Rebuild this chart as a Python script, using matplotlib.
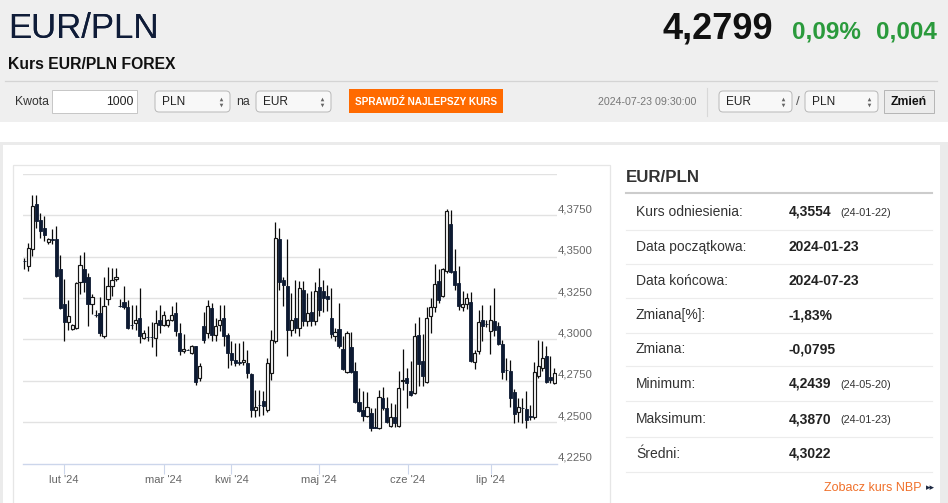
import matplotlib
matplotlib.use('Agg')
import matplotlib.pyplot as plt
from matplotlib.patches import Rectangle, FancyBboxPatch
from matplotlib.transforms import offset_copy, blended_transform_factory
import numpy as np

plt.rcParams['font.family'] = ['Liberation Sans', 'DejaVu Sans']

# ---------------- data ----------------
opens = [4.3475, 4.3447, 4.3548, 4.3817, 4.3720, 4.3671, 4.3588, 4.3605, 4.3605, 4.3427,
         4.3215, 4.3104, 4.3063, 4.3067, 4.3348, 4.3428, 4.3378, 4.3217, 4.3150, 4.3160,
         4.3019, 4.3245, 4.3322, 4.3366, 4.3205, 4.3227, 4.3197, 4.3087, 4.3100, 4.3130,
         4.3009, 4.3015, 4.3015, 4.3009, 4.3120, 4.3089, 4.3089, 4.3115, 4.3160, 4.3039,
         4.2928, 4.2938, 4.2918, 4.2958, 4.2766, 4.3080, 4.3039, 4.3191, 4.3029, 4.3090,
         4.3130, 4.3029, 4.2918, 4.2878, 4.2862, 4.2861, 4.2857, 4.2791, 4.2575, 4.2606,
         4.2631, 4.2575, 4.2797, 4.2989, 4.3609, 4.3358, 4.3326, 4.3059, 4.3130, 4.3070,
         4.3302, 4.3110, 4.3164, 4.3110, 4.3318, 4.3292, 4.3265, 4.3130, 4.3019, 4.3063,
         4.2942, 4.2801, 4.2954, 4.2807, 4.2625, 4.2575, 4.2538, 4.2555, 4.2470, 4.2464,
         4.2645, 4.2585, 4.2478, 4.2534, 4.2478, 4.2750, 4.2767, 4.2690, 4.2676, 4.3029,
         4.2868, 4.2746, 4.3144, 4.3197, 4.3352, 4.3265, 4.3413, 4.3695, 4.3413, 4.3342,
         4.3197, 4.3217, 4.3225, 4.2861, 4.2928, 4.3120, 4.3096, 4.3049, 4.3110, 4.3084,
         4.2975, 4.2817, 4.2807, 4.2680, 4.2559, 4.2585, 4.2579, 4.2535, 4.2534, 4.2781,
         4.2827, 4.2902, 4.2773, 4.2736]
highs = [4.3494, 4.3584, 4.3871, 4.3871, 4.3766, 4.3746, 4.3615, 4.3669, 4.3685, 4.3508,
         4.3366, 4.3241, 4.3095, 4.3346, 4.3508, 4.3528, 4.3403, 4.3277, 4.3180, 4.3257,
         4.3378, 4.3439, 4.3433, 4.3431, 4.3245, 4.3322, 4.3237, 4.3211, 4.3211, 4.3312,
         4.3059, 4.3080, 4.3105, 4.3176, 4.3211, 4.3170, 4.3125, 4.3201, 4.3225, 4.3100,
         4.3034, 4.2942, 4.2968, 4.2962, 4.2857, 4.3164, 4.3241, 4.3221, 4.3130, 4.3211,
         4.3211, 4.3039, 4.2989, 4.2979, 4.2979, 4.2989, 4.2938, 4.2797, 4.2696, 4.2696,
         4.2686, 4.2888, 4.3059, 4.3710, 4.3675, 4.3378, 4.3609, 4.3282, 4.3362, 4.3352,
         4.3352, 4.3282, 4.3292, 4.3346, 4.3433, 4.3362, 4.3332, 4.3312, 4.3069, 4.3221,
         4.3019, 4.3049, 4.3043, 4.2861, 4.2706, 4.2686, 4.2680, 4.2585, 4.2585, 4.2696,
         4.2712, 4.2651, 4.2615, 4.2612, 4.2807, 4.2942, 4.2827, 4.2868, 4.3100, 4.3136,
         4.3035, 4.3197, 4.3251, 4.3459, 4.3427, 4.3433, 4.3786, 4.3782, 4.3548, 4.3447,
         4.3292, 4.3282, 4.3286, 4.2938, 4.3176, 4.3211, 4.3116, 4.3211, 4.3312, 4.3104,
         4.2999, 4.2888, 4.2874, 4.2700, 4.2645, 4.2645, 4.2686, 4.2605, 4.2861, 4.2999,
         4.2989, 4.2958, 4.2902, 4.2827]
lows = [4.3423, 4.3413, 4.3504, 4.3675, 4.3615, 4.3595, 4.3580, 4.3574, 4.3379, 4.3187,
        4.2991, 4.3059, 4.3055, 4.3063, 4.3277, 4.3286, 4.3084, 4.3155, 4.3136, 4.3019,
        4.3009, 4.3211, 4.3261, 4.3354, 4.3195, 4.3187, 4.3065, 4.3065, 4.3059, 4.2978,
        4.3003, 4.2989, 4.2954, 4.2898, 4.3039, 4.3080, 4.3075, 4.3110, 4.3019, 4.2908,
        4.2918, 4.2934, 4.2913, 4.2726, 4.2752, 4.2979, 4.3009, 4.2989, 4.2989, 4.3049,
        4.2958, 4.2827, 4.2847, 4.2841, 4.2847, 4.2847, 4.2767, 4.2534, 4.2534, 4.2538,
        4.2544, 4.2559, 4.2756, 4.2979, 4.3302, 4.3201, 4.2898, 4.3019, 4.3039, 4.3019,
        4.3080, 4.3080, 4.3084, 4.3090, 4.3140, 4.3164, 4.3170, 4.3009, 4.2989, 4.2948,
        4.2817, 4.2797, 4.2797, 4.2615, 4.2559, 4.2510, 4.2534, 4.2450, 4.2464, 4.2458,
        4.2575, 4.2494, 4.2470, 4.2470, 4.2470, 4.2696, 4.2585, 4.2660, 4.2672, 4.2716,
        4.2720, 4.2736, 4.3039, 4.3164, 4.3221, 4.3257, 4.3399, 4.3403, 4.3302, 4.3181,
        4.3170, 4.3185, 4.2861, 4.2821, 4.2914, 4.2989, 4.3076, 4.2914, 4.3019, 4.2969,
        4.2761, 4.2757, 4.2595, 4.2494, 4.2504, 4.2498, 4.2464, 4.2514, 4.2518, 4.2767,
        4.2807, 4.2740, 4.2736, 4.2732]
closes = [4.3472, 4.3554, 4.3806, 4.3716, 4.3655, 4.3629, 4.3605, 4.3603, 4.3383, 4.3191,
          4.3104, 4.3140, 4.3088, 4.3342, 4.3448, 4.3348, 4.3217, 4.3257, 4.3145, 4.3039,
          4.3201, 4.3322, 4.3362, 4.3378, 4.3200, 4.3197, 4.3071, 4.3085, 4.3120, 4.3019,
          4.3039, 4.3013, 4.3013, 4.3100, 4.3089, 4.3150, 4.3115, 4.3150, 4.3049, 4.2928,
          4.2940, 4.2936, 4.2958, 4.2746, 4.2837, 4.2999, 4.3201, 4.3029, 4.3080, 4.3116,
          4.3019, 4.2918, 4.2878, 4.2857, 4.2860, 4.2878, 4.2797, 4.2575, 4.2595, 4.2604,
          4.2599, 4.2857, 4.2999, 4.3615, 4.3346, 4.3332, 4.3059, 4.3120, 4.3070, 4.3312,
          4.3110, 4.3160, 4.3110, 4.3292, 4.3181, 4.3251, 4.3245, 4.3035, 4.3043, 4.2958,
          4.2821, 4.3039, 4.2801, 4.2625, 4.2565, 4.2538, 4.2595, 4.2464, 4.2466, 4.2651,
          4.2585, 4.2504, 4.2534, 4.2498, 4.2706, 4.2754, 4.2736, 4.2666, 4.3019, 4.2853,
          4.2777, 4.3130, 4.3197, 4.3338, 4.3241, 4.3423, 4.3776, 4.3407, 4.3332, 4.3201,
          4.3217, 4.3251, 4.2867, 4.2918, 4.3104, 4.3080, 4.3092, 4.3120, 4.3059, 4.2975,
          4.2801, 4.2815, 4.2645, 4.2550, 4.2595, 4.2583, 4.2514, 4.2533, 4.2801, 4.2841,
          4.2888, 4.2746, 4.2757, 4.2799]

month_labels = ["lut '24", "mar '24", "kwi '24", "maj '24", "cze '24", "lip '24"]
month_pos = [10, 35, 52, 74, 96.3, 117.1]          # candle-index positions of month ticks
grid_levels = [4.225, 4.250, 4.275, 4.300, 4.325, 4.350, 4.375, 4.400]
label_levels = [4.225, 4.250, 4.275, 4.300, 4.325, 4.350, 4.375]

stat_labels = ["Kurs odniesienia:", "Data początkowa:", "Data końcowa:", "Zmiana[%]:",
               "Zmiana:", "Minimum:", "Maksimum:", "Średni:"]
stat_values = ["4,3554", "2024-01-23", "2024-07-23", "-1,83%", "-0,0795", "4,2439", "4,3870", "4,3022"]
stat_dates = ["(24-01-22)", "", "", "", "", "(24-05-20)", "(24-01-23)", ""]

pair = "EUR/PLN"
last_rate = "4,2799"
change_pct = "0,09%"
change_abs = "0,004"
timestamp = "2024-07-23 09:30:00"

# ---------------- figure ----------------
W, H = 948, 503
fig = plt.figure(figsize=(W / 100, H / 100), dpi=100)
fig.patch.set_facecolor('white')
bg = fig.add_axes([0, 0, 1, 1])
bg.set_xlim(0, W)
bg.set_ylim(H, 0)
bg.axis('off')

# header band
bg.add_patch(Rectangle((0, 0), W, 122, fc='#efefef', ec='none'))
bg.plot([5, 937], [81, 81], color='#d4d4d4', lw=0.9)
# lower container
bg.add_patch(Rectangle((0, 142), W, H - 142, fc='#ebebeb', ec='none'))
bg.add_patch(Rectangle((3, 145), 937, H - 145, fc='white', ec='none'))
bg.add_patch(Rectangle((13, 165), 597, 345, fc='none', ec='#e6e6e6', lw=0.9))

# titles
bg.text(8, 28, pair, fontsize=25, color='#0f1c38', va='center', ha='left')
bg.text(8.6, 28, pair, fontsize=25, color='#0f1c38', va='center', ha='left')
bg.text(663, 29, last_rate, fontsize=26, fontweight='bold', color='#111111', va='center')
bg.text(792, 32, change_pct, fontsize=17.5, fontweight='bold', color='#2a9a3c', va='center')
bg.text(876, 32, change_abs, fontsize=17.5, fontweight='bold', color='#2a9a3c', va='center')
bg.text(8, 64, "Kurs EUR/PLN FOREX", fontsize=11.3, fontweight='bold', color='#111111', va='center')

# controls row
def select(x0, x1, label):
    bg.add_patch(FancyBboxPatch((x0, 91), x1 - x0, 21, boxstyle='round,pad=0,rounding_size=4',
                                fc='#f8f8f8', ec='#b8b8b8', lw=0.7))
    bg.text(x0 + 7, 101.5, label, fontsize=8.6, color='#222', va='center')
    bg.plot([x1 - 9], [98.5], marker='^', ms=2.6, color='#666', mec='none')
    bg.plot([x1 - 9], [104.5], marker='v', ms=2.6, color='#666', mec='none')

bg.text(15, 101.5, "Kwota", fontsize=8.8, color='#333', va='center')
bg.add_patch(Rectangle((52, 90), 85, 23, fc='white', ec='#c6c6c6', lw=0.7))
bg.text(134, 101.5, "1000", fontsize=8.8, color='#222', va='center', ha='right')
select(155, 230, "PLN")
bg.text(236, 101.5, "na", fontsize=8.8, color='#333', va='center')
select(256, 331, "EUR")
bg.add_patch(Rectangle((349, 89), 154, 24, fc='#ff6a00', ec='none'))
bg.text(426, 101.5, "SPRAWDŹ NAJLEPSZY KURS", fontsize=7.2, fontweight='bold', color='white',
        va='center', ha='center')
bg.text(598, 102, timestamp, fontsize=7.7, color='#777777', va='center')
bg.plot([707, 707], [88, 116], color='#d8d8d8', lw=0.8)
select(719, 792, "EUR")
bg.text(798, 102, "/", fontsize=9.5, color='#555', va='center', ha='center')
select(805, 878, "PLN")
bg.add_patch(Rectangle((884, 90), 50, 23, fc='#ececec', ec='#b5b5b5', lw=0.7))
bg.text(909, 102, "Zmień", fontsize=8.8, fontweight='bold', color='#111', va='center', ha='center')

# right stats panel
bg.text(626, 178, pair, fontsize=12.2, fontweight='bold', color='#333333', va='center')
bg.plot([626, 932], [193, 193], color='#cccccc', lw=1.5)
row_y = [212, 247, 281, 315, 349, 384, 419, 454]
sep_y = [230, 264, 298, 333, 366, 401, 437, 472]
for y in sep_y:
    bg.plot([626, 932], [y, y], color='#ececec', lw=0.8)
for y, lab, val, dt in zip(row_y, stat_labels, stat_values, stat_dates):
    bg.text(636, y, lab, fontsize=10, color='#333333', va='center')
    bg.text(789, y, val, fontsize=10, fontweight='bold', color='#222222', va='center')
    if dt:
        bg.text(840, y + 1, dt, fontsize=7.8, color='#333333', va='center')
bg.text(922, 488, "Zobacz kurs NBP", fontsize=9, color='#f0702a', va='center', ha='right')
bg.text(926, 488, "▸▸", fontsize=6.5, color='#1c2841', va='center', ha='left',
        family=['DejaVu Sans'])

# ---------------- candlestick chart ----------------
ax = fig.add_axes([23 / W, (H - 463.6) / H, (557 - 23) / W, (463.6 - 174) / H])
ax.set_facecolor('none')
o = np.array(opens); h = np.array(highs); l = np.array(lows); c = np.array(closes)
x = np.arange(len(o))
ax.set_xlim(-0.33, 133.7)
ax.set_ylim(4.225, 4.40)

for v in grid_levels[1:]:
    ax.axhline(v, color='#e2e2e2', lw=1.0, zorder=0)

for s in ['top', 'left', 'right']:
    ax.spines[s].set_visible(False)
ax.spines['bottom'].set_color('#ccd6eb')
ax.spines['bottom'].set_linewidth(1.0)
ax.set_yticks([])
ax.set_xticks(month_pos)
ax.set_xticklabels(month_labels)
ax.tick_params(axis='x', length=7, width=0.8, color='#ccd6eb', labelcolor='#666666',
               labelsize=8, pad=1)

tr = offset_copy(blended_transform_factory(ax.transAxes, ax.transData), fig=fig,
                 x=1, y=6, units='dots')
for v in label_levels:
    ax.text(1.0, v, f"{v:.4f}".replace('.', ','), transform=tr, fontsize=8.2,
            color='#666666', va='center', ha='left', clip_on=False)

ax.vlines(x, l, h, color='#0a0a0a', lw=0.9, zorder=2)
up = c >= o
body_lo = np.minimum(o, c)
body_h = np.maximum(np.abs(c - o), 0.00025)
ax.bar(x[up], body_h[up], bottom=body_lo[up], width=0.8, color='white',
       edgecolor='#151515', linewidth=0.85, zorder=3)
ax.bar(x[~up], body_h[~up], bottom=body_lo[~up], width=0.8, color='#0d1a32',
       edgecolor='#0d1a32', linewidth=0.6, zorder=3)

fig.savefig('out.png', dpi=100)
